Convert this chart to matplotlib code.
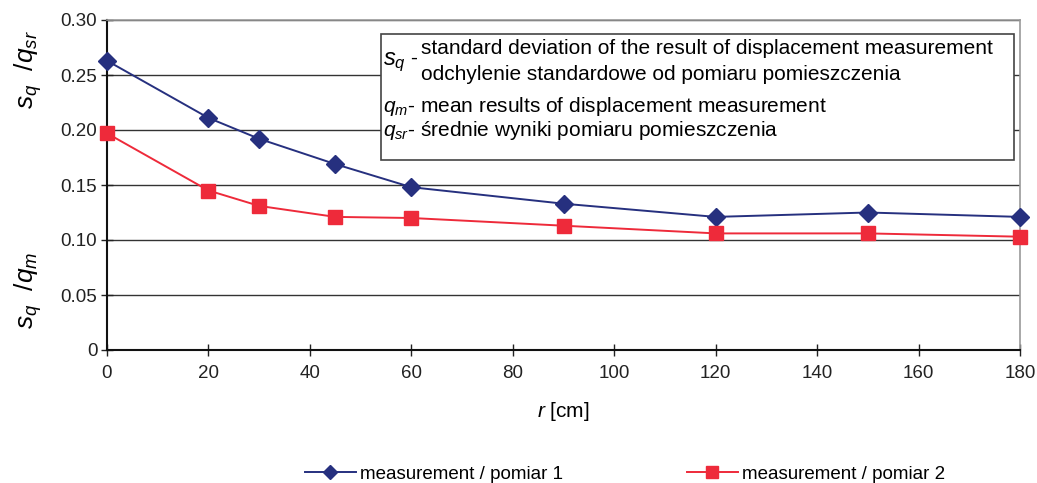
import numpy as np
import matplotlib
matplotlib.use("Agg")
import matplotlib.pyplot as plt
from matplotlib.patches import Rectangle

plt.rcParams['font.family'] = ['Liberation Sans', 'DejaVu Sans']
plt.rcParams['mathtext.fontset'] = 'custom'
plt.rcParams['mathtext.rm'] = 'Liberation Sans'
plt.rcParams['mathtext.it'] = 'Liberation Sans:italic'

# data
r_cm = [0, 20, 30, 45, 60, 90, 120, 150, 180]
pomiar1 = [0.263, 0.211, 0.192, 0.169, 0.148, 0.133, 0.121, 0.125, 0.121]
pomiar2 = [0.197, 0.145, 0.131, 0.121, 0.120, 0.113, 0.106, 0.106, 0.103]
series_labels = ["measurement / pomiar 1", "measurement / pomiar 2"]
yticks = [0, 0.05, 0.10, 0.15, 0.20, 0.25, 0.30]
ytick_labels = ["0", "0.05", "0.10", "0.15", "0.20", "0.25", "0.30"]
xticks = [0, 20, 40, 60, 80, 100, 120, 140, 160, 180]

W, H = 1037, 483
fig = plt.figure(figsize=(W / 100, H / 100), dpi=100)
ax = fig.add_axes([107 / W, 1 - 350 / H, (1020 - 107) / W, (350 - 20) / H])

blue = '#26307f'
red = '#ee2a3a'
l1, = ax.plot(r_cm, pomiar1, color=blue, lw=1.4, marker='D', ms=9,
              markeredgecolor=blue, clip_on=False, zorder=4)
l2, = ax.plot(r_cm, pomiar2, color=red, lw=1.4, marker='s', ms=10,
              markeredgecolor=red, clip_on=False, zorder=4)

ax.set_xlim(0, 180)
ax.set_ylim(0, 0.30)
ax.set_xticks(xticks)
ax.set_yticks(yticks)
ax.set_yticklabels(ytick_labels)
ax.tick_params(labelsize=13.5, direction='inout', length=8, width=1, colors='#222222')
ax.tick_params(axis='x', pad=7)
ax.tick_params(axis='y', pad=3)
ax.yaxis.grid(True, color='#333333', lw=1)
ax.set_axisbelow(True)
for s in ['left', 'bottom']:
    ax.spines[s].set_color('#111111')
    ax.spines[s].set_linewidth(1.5)
for s in ['top', 'right']:
    ax.spines[s].set_color('#999999')
    ax.spines[s].set_linewidth(1.2)

ax.set_xlabel(r'$r$ [cm]', fontsize=15, labelpad=13)

# two y labels
fig.text(28 / W, 1 - 70 / H, r'$s_q\ \ /q_{sr}$', rotation=90, fontsize=19,
         ha='center', va='center')
fig.text(28 / W, 1 - 290 / H, r'$s_q\ \ /q_m$', rotation=90, fontsize=19,
         ha='center', va='center')

# description box
fig.add_artist(Rectangle((381 / W, 1 - 160 / H), (1014 - 381) / W, (160 - 34) / H,
                         transform=fig.transFigure, facecolor='white',
                         edgecolor='#444444', lw=1.2, zorder=5))
fs = 15
fig.text(383 / W, 1 - 62 / H, r'$s_q$', fontsize=17, va='center', zorder=6)
fig.text(410 / W, 1 - 58 / H, '-', fontsize=fs, va='center', zorder=6)
fig.text(421 / W, 1 - 49 / H, 'standard deviation of the result of displacement measurement',
         fontsize=fs, va='center', zorder=6)
fig.text(421 / W, 1 - 74 / H, 'odchylenie standardowe od pomiaru pomieszczenia',
         fontsize=fs, va='center', zorder=6)
fig.text(383 / W, 1 - 106 / H, r'$q_m$' + '- mean results of displacement measurement',
         fontsize=fs, va='center', zorder=6)
fig.text(383 / W, 1 - 131 / H, r'$q_{sr}$' + '- średnie wyniki pomiaru pomieszczenia',
         fontsize=fs, va='center', zorder=6)

fig.legend([l1, l2], series_labels, loc='center left', bbox_to_anchor=(305 / W, 1 - 474 / H),
           ncol=2, frameon=False, fontsize=13.5, handlelength=2.7, handletextpad=0.25,
           columnspacing=6.6, markerscale=0.8, borderaxespad=0, borderpad=0)

fig.savefig('out.png', dpi=100)
